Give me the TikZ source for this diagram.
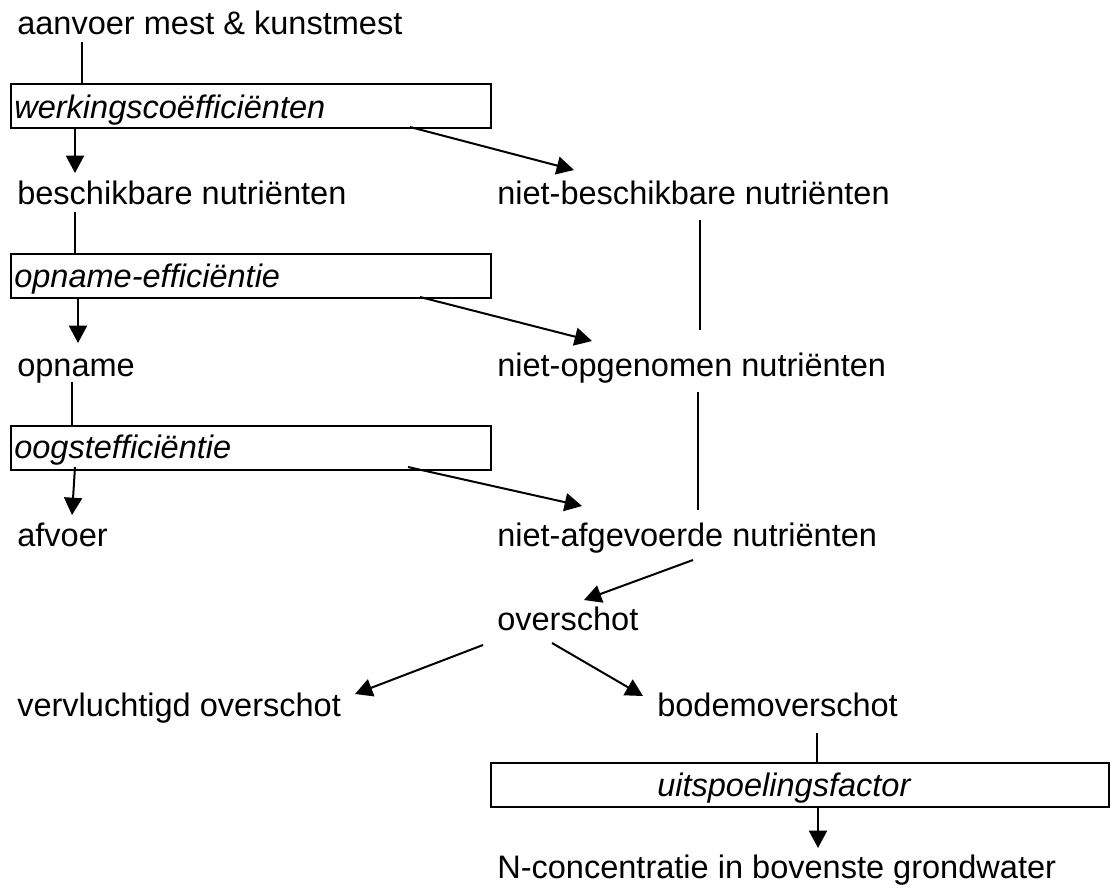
\documentclass[tikz,border=0pt]{standalone}
\usepackage{fontspec}
\setmainfont{Liberation Sans}
\usetikzlibrary{arrows.meta}
\begin{document}
\begin{tikzpicture}[x=0.75pt,y=-0.75pt,
  lbl/.style={anchor=base west,inner sep=0pt,font=\fontsize{24.4pt}{29pt}\selectfont},
  fbox/.style={draw,line width=1.5pt,anchor=north west,minimum height=33pt,inner sep=0pt},
  ftxt/.style={anchor=base west,inner sep=0pt,font=\fontsize{24.4pt}{29pt}\selectfont\itshape},
  ln/.style={line width=1.5pt},
  arr/.style={line width=1.5pt,-{Triangle[length=13pt,width=13.5pt]}}]
\useasboundingbox (0,0) rectangle (1117,889);
% texts
\node[lbl] (aanvoer) at (17,34) {aanvoer mest \& kunstmest};
\node[lbl] (besch) at (17,204) {beschikbare nutriënten};
\node[lbl] (nbesch) at (497,204) {niet-beschikbare nutriënten};
\node[lbl] (opname) at (17,376) {opname};
\node[lbl] (nopg) at (497,376) {niet-opgenomen nutriënten};
\node[lbl] (afvoer) at (17,546) {afvoer};
\node[lbl] (nafg) at (497,546) {niet-afgevoerde nutriënten};
\node[lbl] (oversch) at (497,630) {overschot};
\node[lbl] (vervl) at (17,716) {vervluchtigd overschot};
\node[lbl] (bodem) at (657,716) {bodemoverschot};
\node[lbl] (nconc) at (497,878) {N-concentratie in bovenste grondwater};
% boxes
\node[fbox,minimum width=360pt] (b1) at (10,83) {};
\node[ftxt] (t1) at (14,118) {werkingscoëfficiënten};
\node[fbox,minimum width=360pt] (b2) at (10,253) {};
\node[ftxt] (t2) at (14,287) {opname-efficiëntie};
\node[fbox,minimum width=360pt] (b3) at (10,425) {};
\node[ftxt] (t3) at (14,458) {oogstefficiëntie};
\node[fbox,minimum width=463.5pt] (b4) at (490,762) {};
\node[ftxt] (t4) at (657,796) {uitspoelingsfactor};
% coordinates
\coordinate (c1) at (82,42);
\coordinate (c2) at (75,173);
\coordinate (c3a) at (410,127);
\coordinate (c3b) at (574,170);
\coordinate (c4) at (75,212);
\coordinate (c5) at (78,343);
\coordinate (c6a) at (420,297);
\coordinate (c6b) at (592,341);
\coordinate (c7a) at (700,220);
\coordinate (c7b) at (700,330);
\coordinate (c8) at (72,382);
\coordinate (c9a) at (75,467);
\coordinate (c9b) at (72,515);
\coordinate (c10a) at (408,467);
\coordinate (c10b) at (582,506);
\coordinate (c11a) at (698,392);
\coordinate (c11b) at (698,510);
\coordinate (c12a) at (693,560);
\coordinate (c12b) at (584,600);
\coordinate (c13a) at (483,645);
\coordinate (c13b) at (355,694);
\coordinate (c14a) at (552,643);
\coordinate (c14b) at (643,696);
\coordinate (c15) at (817,733);
\coordinate (c16) at (818,848);
% connectors
\draw[ln] (c1) -- (c1 |- b1.north);
\draw[arr] (c2 |- b1.south) -- (c2);
\draw[arr] (c3a) -- (c3b);
\draw[ln] (c4) -- (c4 |- b2.north);
\draw[arr] (c5 |- b2.south) -- (c5);
\draw[arr] (c6a) -- (c6b);
\draw[ln] (c7a) -- (c7b);
\draw[ln] (c8) -- (c8 |- b3.north);
\draw[arr] (c9a) -- (c9b);
\draw[arr] (c10a) -- (c10b);
\draw[ln] (c11a) -- (c11b);
\draw[arr] (c12a) -- (c12b);
\draw[arr] (c13a) -- (c13b);
\draw[arr] (c14a) -- (c14b);
\draw[ln] (c15) -- (c15 |- b4.north);
\draw[arr] (c16 |- b4.south) -- (c16);
\end{tikzpicture}
\end{document}
